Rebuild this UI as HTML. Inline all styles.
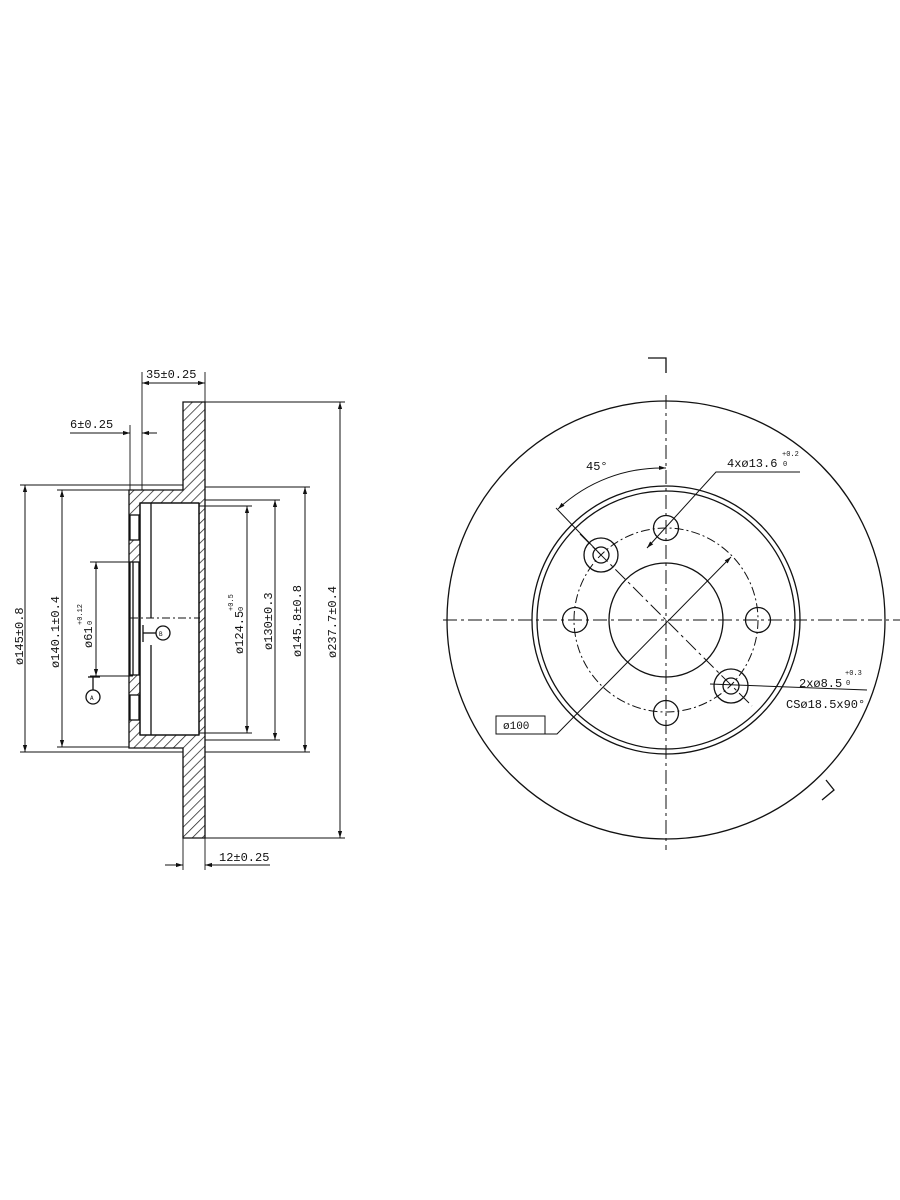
<!DOCTYPE html>
<html><head><meta charset="utf-8"><style>
html,body{margin:0;padding:0;background:#fff;}
svg{display:block;}
text{font-family:"Liberation Mono","DejaVu Sans Mono",monospace;fill:#111;}
</style></head><body>
<svg width="900" height="1200" viewBox="0 0 900 1200" xmlns="http://www.w3.org/2000/svg">
<defs>
<pattern id="h" width="7" height="7" patternUnits="userSpaceOnUse" patternTransform="rotate(45)">
<rect width="7" height="7" fill="#fff"/><line x1="0" y1="0" x2="0" y2="7" stroke="#222" stroke-width="1.5"/>
</pattern>
<marker id="a" viewBox="0 0 10 10" refX="10" refY="5" markerWidth="7" markerHeight="7" orient="auto-start-reverse"><path d="M0,2 L10,5 L0,8z" fill="#111"/></marker>
</defs>
<g stroke="#111" fill="none" stroke-width="1.3">
<path d="M183,402 H205 V838 H183 V748 H129 V490 H183 Z" fill="url(#h)"/>
<rect x="140" y="503" width="59" height="232" fill="#fff"/>
<line x1="199" y1="503" x2="199" y2="735"/>
<line x1="140" y1="503" x2="199" y2="503"/>
<line x1="140" y1="735" x2="199" y2="735"/>
<line x1="140" y1="503" x2="140" y2="735"/>
<line x1="151" y1="503" x2="151" y2="618"/>
<line x1="151" y1="645" x2="151" y2="735"/>
<rect x="130" y="515" width="9" height="25" fill="#fff"/>
<rect x="130" y="562" width="9" height="113" fill="#fff"/>
<rect x="130" y="695" width="9" height="25" fill="#fff"/>
<line x1="133" y1="562" x2="133" y2="675"/>
<line x1="130" y1="618" x2="200" y2="618" stroke-dasharray="8,3,2,3" stroke-width="1"/>
<line x1="143" y1="625" x2="143" y2="642"/><line x1="143" y1="633" x2="156" y2="633"/>
<circle cx="163" cy="633" r="7"/>
<line x1="88" y1="677" x2="100" y2="677"/><line x1="93" y1="677" x2="93" y2="690"/>
<circle cx="93" cy="697" r="7"/>
<g stroke-width="0.9">
<line x1="142" y1="372" x2="142" y2="490"/><line x1="205" y1="372" x2="205" y2="402"/>
<line x1="130" y1="425" x2="130" y2="490"/>
<line x1="205" y1="402" x2="345" y2="402"/><line x1="205" y1="838" x2="345" y2="838"/>
<line x1="20" y1="485" x2="183" y2="485"/><line x1="20" y1="752" x2="183" y2="752"/>
<line x1="57" y1="490" x2="129" y2="490"/><line x1="57" y1="747" x2="129" y2="747"/>
<line x1="90" y1="562" x2="133" y2="562"/><line x1="90" y1="676" x2="133" y2="676"/>
<line x1="199" y1="506" x2="252" y2="506"/><line x1="199" y1="733" x2="252" y2="733"/>
<line x1="205" y1="500" x2="280" y2="500"/><line x1="205" y1="740" x2="280" y2="740"/>
<line x1="205" y1="487" x2="310" y2="487"/><line x1="205" y1="752" x2="310" y2="752"/>
<line x1="183" y1="838" x2="183" y2="870"/><line x1="205" y1="838" x2="205" y2="870"/>
</g>
<g stroke-width="1" marker-start="url(#a)" marker-end="url(#a)">
<line x1="142" y1="383" x2="205" y2="383"/>
<line x1="25" y1="485" x2="25" y2="752"/>
<line x1="62" y1="490" x2="62" y2="747"/>
<line x1="96" y1="562" x2="96" y2="676"/>
<line x1="247" y1="506" x2="247" y2="733"/>
<line x1="275" y1="500" x2="275" y2="740"/>
<line x1="305" y1="487" x2="305" y2="752"/>
<line x1="340" y1="402" x2="340" y2="838"/>
</g>
<line x1="70" y1="433" x2="130" y2="433" marker-end="url(#a)" stroke-width="1"/>
<line x1="157" y1="433" x2="142" y2="433" marker-end="url(#a)" stroke-width="1"/>
<line x1="165" y1="865" x2="183" y2="865" marker-end="url(#a)" stroke-width="1"/>
<line x1="270" y1="865" x2="205" y2="865" marker-end="url(#a)" stroke-width="1"/>

<circle cx="666" cy="620" r="219"/>
<circle cx="666" cy="620" r="134"/>
<circle cx="666" cy="620" r="129"/>
<circle cx="666" cy="620" r="57"/>
<circle cx="666" cy="620" r="92" stroke-dasharray="9,3,2,3" stroke-width="1"/>
<line x1="443" y1="620" x2="900" y2="620" stroke-dasharray="14,4,3,4" stroke-width="1"/>
<line x1="666" y1="395" x2="666" y2="850" stroke-dasharray="14,4,3,4" stroke-width="1"/>
<line x1="580" y1="534" x2="752" y2="706" stroke-dasharray="14,4,3,4" stroke-width="1"/>
<circle cx="666" cy="528" r="12.5"/><circle cx="575" cy="620" r="12.5"/>
<circle cx="758" cy="620" r="12.5"/><circle cx="666" cy="713" r="12.5"/>
<circle cx="601" cy="555" r="17"/><circle cx="601" cy="555" r="8"/>
<circle cx="731" cy="686" r="17"/><circle cx="731" cy="686" r="8"/>
<line x1="556" y1="508" x2="601" y2="555" stroke-width="1"/>
<path d="M558,509 A152,152 0 0 1 666,468" stroke-width="1" marker-start="url(#a)" marker-end="url(#a)"/>
<polyline points="647,548 716,472 800,472" stroke-width="1" marker-start="url(#a)"/>
<rect x="496" y="716" width="49" height="18" stroke-width="1"/>
<polyline points="545,734 557,734 731,557" stroke-width="1" marker-end="url(#a)"/>
<line x1="710" y1="684" x2="867" y2="690" stroke-width="1"/>
<polyline points="648,358 666,358 666,373"/>
<polyline points="822,800 834,790 826,780" />
</g>
<g font-size="12">
<text x="146" y="378">35±0.25</text>
<text x="70" y="428">6±0.25</text>
<text x="219" y="861">12±0.25</text>
<text transform="translate(23,665) rotate(-90)">ø145±0.8</text>
<text transform="translate(59,668) rotate(-90)">ø140.1±0.4</text>
<text transform="translate(92,648) rotate(-90)">ø61</text>
<text transform="translate(82,625) rotate(-90)" font-size="7">+0.12</text>
<text transform="translate(92,625) rotate(-90)" font-size="7">0</text>
<text transform="translate(243,654) rotate(-90)">ø124.5</text>
<text transform="translate(233,611) rotate(-90)" font-size="7">+0.5</text>
<text transform="translate(243,611) rotate(-90)" font-size="7">0</text>
<text transform="translate(272,650) rotate(-90)">ø130±0.3</text>
<text transform="translate(301,657) rotate(-90)">ø145.8±0.8</text>
<text transform="translate(336,658) rotate(-90)">ø237.7±0.4</text>
<text x="586" y="470">45°</text>
<text x="727" y="467">4xø13.6</text>
<text x="782" y="456" font-size="7">+0.2</text>
<text x="783" y="466" font-size="7">0</text>
<text x="799" y="687">2xø8.5</text>
<text x="845" y="675" font-size="7">+0.3</text>
<text x="846" y="685" font-size="7">0</text>
<text x="786" y="708">CSø18.5x90°</text>
<text x="503" y="729" font-size="11">ø100</text>
<text x="159" y="636" font-size="6">B</text>
<text x="90" y="700" font-size="6">A</text>
</g>
</svg>
</body></html>
